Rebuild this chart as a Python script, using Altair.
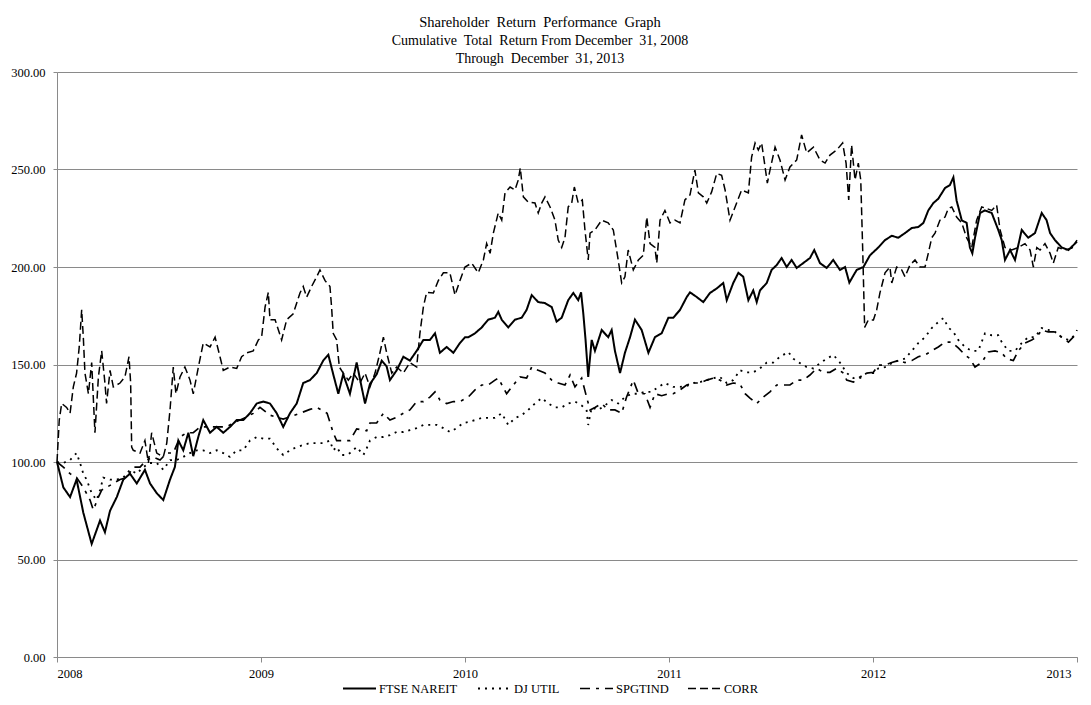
import altair as alt
import pandas as pd

series_names = ["FTSE NAREIT", "DJ UTIL", "SPGTIND", "CORR"]
start_year = 2008

# years elapsed since start of 2008, and index values
ftse_t = [0.000,0.031,0.064,0.096,0.129,0.170,0.211,0.235,0.260,0.293,0.325,0.358,0.391,0.431,0.456,0.489,0.521,0.554,0.578,0.595,0.619,0.644,0.668,0.693,0.717,0.750,0.783,0.815,0.848,0.881,0.913,0.946,0.979,
          1.011,1.044,1.077,1.109,1.142,1.175,1.207,1.240,1.273,1.305,1.330,1.354,1.379,1.403,1.436,1.469,1.494,1.510,1.534,1.567,1.592,1.616,1.632,1.665,1.698,1.730,1.763,1.796,1.828,1.853,1.877,1.910,1.943,1.975,2.000,
          2.016,2.049,2.082,2.114,2.147,2.163,2.180,2.212,2.245,2.278,2.302,2.327,2.359,2.392,2.425,2.449,2.474,2.506,2.531,2.555,2.569,2.580,2.591,2.604,2.621,2.637,2.670,2.702,2.719,2.735,2.760,2.784,2.809,2.833,2.866,2.899,2.931,2.964,2.997,
          3.021,3.054,3.087,3.103,3.136,3.168,3.201,3.234,3.266,3.283,3.315,3.340,3.364,3.389,3.413,3.430,3.446,3.479,3.503,3.528,3.552,3.577,3.601,3.626,3.658,3.691,3.712,3.740,3.773,3.805,3.838,3.863,3.884,3.920,3.953,3.985,
          4.026,4.059,4.092,4.124,4.157,4.190,4.222,4.247,4.271,4.296,4.320,4.353,4.377,4.394,4.410,4.435,4.459,4.475,4.487,4.500,4.525,4.549,4.582,4.614,4.631,4.647,4.672,4.696,4.729,4.761,4.794,4.827,4.851,4.868,4.892,4.925,4.958,4.990,5.000]
ftse_v = [100,87,82,91,74,58,70,64,75,82,91,94,89,96,89,84,80.5,91,97.5,111,106,115,103,113,121.5,115,118,115,118,121.5,121.5,125,130,
          131,130,125,118,125,130,140.5,142,145.6,152,155,145,135,145,135,151,138,130,140,145,152,149,142,147,154,152,157,162.6,162.6,166,156,159,156,161,164,
          164,166,169,173,174,177,173,169,173,174,178,185.6,182,181.5,179.5,172,174,183,186.7,183,187,176,162.6,143.6,162.6,157,167.7,164,167.7,157,145.6,156,164,173,167.7,156,164,166,174,
          174,178,184.6,187,184.6,182,186.7,189,191.8,183,191.8,197,195,183,188,182,188,191.8,198.5,201,204.6,200,203.6,199.5,202,204.6,208.7,202,199.5,203.6,198.5,200,192,198.5,200,206,
          210,213.8,216,215,217.4,220,220.5,222.6,229,232.8,235,240.5,242,246,234,224,222.6,210,207,215,227.7,229,227.7,219,213.8,203.6,208.7,203.6,219,215,217.4,227.7,224,217.4,213.8,210,208.7,212,213]

djutil_t = [0.000,0.031,0.064,0.096,0.113,0.129,0.145,0.170,0.194,0.211,0.227,0.260,0.293,0.325,0.358,0.391,0.423,0.456,0.489,0.521,0.554,0.586,0.619,0.652,0.685,0.717,0.750,0.783,0.815,0.848,0.881,0.913,0.946,0.979,
            1.011,1.044,1.077,1.109,1.142,1.175,1.207,1.240,1.273,1.305,1.338,1.354,1.371,1.395,1.420,1.436,1.469,1.502,1.518,1.534,1.567,1.600,1.632,1.665,1.698,1.730,1.763,1.796,1.828,1.861,1.894,1.926,1.959,1.992,
            2.016,2.049,2.082,2.114,2.147,2.180,2.212,2.245,2.278,2.310,2.343,2.376,2.408,2.441,2.474,2.506,2.539,2.572,2.596,2.604,2.621,2.653,2.686,2.719,2.751,2.784,2.817,2.850,2.882,2.915,2.948,2.980,
            3.021,3.054,3.087,3.120,3.152,3.185,3.217,3.250,3.283,3.315,3.348,3.381,3.413,3.446,3.479,3.511,3.544,3.585,3.609,3.642,3.675,3.708,3.740,3.773,3.806,3.838,3.871,3.904,3.936,3.969,4.002,
            4.026,4.059,4.092,4.124,4.157,4.190,4.222,4.255,4.288,4.320,4.345,4.369,4.394,4.418,4.451,4.484,4.516,4.549,4.582,4.614,4.631,4.663,4.696,4.729,4.761,4.794,4.827,4.859,4.892,4.925,4.958,4.990,5.000]
djutil_v = [100,99.5,101,104.6,99.5,94,91,84,80.5,85.6,92,91,91,92,96,94,97.4,99.5,99.5,96,101,101,102.6,104.6,106,106,104.6,106,104.6,102.6,106,106,111,112.8,
            112,112,107,103.6,106,107.7,108.7,109.7,109.7,109.7,111,106,107.7,103.6,103.6,104.6,107.7,103.6,107,111,112.8,112.8,113.8,115.4,115.4,116.4,117.4,119,119,119,117.4,115.4,117.4,120,
            120.5,121.5,122.6,122.6,122.6,125,119,122.6,124,126.7,130,132.8,130,128,128,130,131,129,126.7,119,128,126.7,129,131.8,130,133.3,135,135,136,136,138.5,140.5,
            138.5,138.5,139,140.5,141,142,143,143.6,140.5,142,147,146,146,148,151,151,154,156.4,153,150.7,148.7,148,150.7,153,154.9,151,145.6,143,143,145.6,145.6,
            148,148.7,150.7,152,153,157,161,164,168.7,171.8,173.8,169,166.7,162.6,159,157,157,166,165,165,161.5,157,157,161,164,164,168.7,167.7,166.7,164,162.6,165,166]

spgt_t = [0.000,0.031,0.064,0.096,0.129,0.162,0.178,0.203,0.219,0.243,0.276,0.309,0.341,0.374,0.407,0.439,0.472,0.505,0.538,0.570,0.603,0.635,0.668,0.701,0.734,0.766,0.799,0.832,0.864,0.897,0.930,0.962,0.995,
          1.044,1.109,1.191,1.240,1.273,1.324,1.354,1.371,1.403,1.436,1.469,1.518,1.534,1.567,1.600,1.632,1.665,1.698,1.730,1.763,1.796,1.828,1.853,1.877,1.910,1.943,1.975,
          2.016,2.049,2.082,2.114,2.147,2.163,2.204,2.237,2.270,2.302,2.327,2.359,2.392,2.425,2.457,2.490,2.515,2.539,2.572,2.596,2.613,2.637,2.670,2.702,2.735,2.768,2.792,2.825,2.850,2.882,2.907,2.931,2.964,2.997,
          3.021,3.054,3.087,3.120,3.152,3.185,3.217,3.250,3.283,3.315,3.348,3.373,3.397,3.430,3.462,3.495,3.528,3.560,3.593,3.626,3.658,3.691,3.724,3.756,3.789,3.822,3.855,3.871,3.904,3.936,3.969,4.002,
          4.026,4.059,4.092,4.124,4.157,4.190,4.222,4.255,4.288,4.320,4.353,4.386,4.418,4.451,4.475,4.500,4.533,4.565,4.598,4.631,4.655,4.688,4.712,4.745,4.778,4.802,4.827,4.859,4.892,4.925,4.958,4.990,5.000]
spgt_v = [100,97.4,94,92,87,80.5,75.4,82,85.6,87,89,91,92,97.4,97.4,101,102.6,101,104.6,104.6,112.8,115,115,118,118,118,118,118,120,121.5,123,125,128,
          124,122,125,127,128,125,115,111,111,111,117,116,120,120,125,121.5,123,125,126.7,131,131,133.3,136,131.8,130,131,131,
          133.3,137,139.5,139.5,142,143,135,139.5,143.6,143,148.7,147,145.6,142,140.5,139.5,144.6,138.5,143,133.3,126.7,128,130,126.7,126.7,125,133.3,142,135,135,128,135,134,135,
          135,137,139.5,140.5,140.5,142,143,142,139.5,140.5,140,135,132.8,130,133.3,136,139.5,139.5,139.5,142,142,144.6,148,146,146,148,145.6,142,141,143.6,145.6,146,
          149.7,149.7,151,152,151,152,154,154.9,157,159,161.5,161.5,158.5,154.9,153,148.7,151,156.4,157,156,153,152,157,161,162.6,164,167.7,166.7,166.7,164,161.5,165,167.7]

corr_t = [0.000,0.011,0.023,0.047,0.064,0.080,0.096,0.109,0.121,0.129,0.137,0.154,0.170,0.186,0.203,0.219,0.235,0.243,0.260,0.276,0.309,0.333,0.353,0.361,0.366,0.374,0.407,0.431,0.448,0.464,0.489,0.521,0.538,0.554,0.570,0.583,0.603,0.627,0.652,0.668,0.693,0.717,0.750,0.775,0.799,0.815,0.848,0.881,0.905,0.930,0.962,0.987,
          1.003,1.020,1.036,1.044,1.069,1.101,1.126,1.158,1.191,1.207,1.224,1.248,1.273,1.289,1.314,1.338,1.346,1.354,1.371,1.384,1.403,1.428,1.453,1.485,1.510,1.534,1.559,1.583,1.600,1.616,1.641,1.665,1.698,1.730,1.763,1.779,1.796,1.812,1.845,1.869,1.894,1.926,1.951,1.975,
          2.000,2.033,2.065,2.090,2.106,2.123,2.139,2.163,2.180,2.196,2.221,2.245,2.261,2.271,2.286,2.310,2.343,2.359,2.376,2.392,2.417,2.441,2.457,2.474,2.490,2.506,2.523,2.536,2.555,2.575,2.588,2.604,2.613,2.637,2.670,2.702,2.727,2.751,2.768,2.784,2.800,2.825,2.850,2.874,2.891,2.907,2.931,2.940,2.956,2.980,
          3.005,3.029,3.054,3.078,3.103,3.127,3.144,3.168,3.185,3.209,3.234,3.258,3.275,3.299,3.324,3.356,3.389,3.405,3.422,3.438,3.454,3.471,3.482,3.495,3.520,3.544,3.569,3.593,3.626,3.650,3.675,3.708,3.740,3.765,3.789,3.822,3.851,3.868,3.881,3.895,3.912,3.928,3.940,3.950,3.959,3.977,
          4.002,4.018,4.034,4.059,4.083,4.092,4.116,4.141,4.157,4.181,4.206,4.230,4.255,4.271,4.288,4.304,4.328,4.353,4.369,4.386,4.410,4.435,4.459,4.484,4.508,4.533,4.557,4.582,4.606,4.623,4.647,4.680,4.712,4.745,4.770,4.786,4.803,4.819,4.843,4.868,4.884,4.908,4.941,4.975,5.000]
corr_v = [100,121.5,130,128,125,138.5,145.6,159,178,164,145.6,135,151,115,143.6,157,140.5,130,147,138.5,140.5,143.6,154,140.5,107.7,106,104.6,111,99.5,115,104.6,102.6,109.7,126.7,148.7,135,143.6,148.7,142,135,148.7,161,159,164,154,147,148.7,148,154,156,157,162.6,
          164,179.5,187,173,173,162.6,173,176,186.7,190,184.6,190,195,198.5,193,190,179.5,166,162.6,148.7,145.6,142,145.6,140.5,145.6,138.5,145.6,156,164,156,145.6,148.7,145.6,151,148.7,166,179.5,187,186.7,193,197,197,185.6,193,
          200,202,197,203.6,212,207,217.4,227.7,224,238,241,239.5,244.6,250.8,236,233.3,232.8,227.7,232.8,236,230.8,224,213.8,210,215,230.8,232.8,241,232.8,234.4,219,203.6,217.4,219,224,222.6,219,203.6,191.8,195,208.7,198.5,203.6,206,225.6,212,210,202,224,229,
          222.6,224,222.6,234.4,237,249.7,238,236,232.8,238.5,248,247,239.5,224,230.8,239.5,238,256.4,263.6,260,263.6,251.3,243,249.7,261.5,254.9,244.6,251.3,254.9,267.7,258.5,261.5,254.9,253.3,257.4,260,263.6,253.3,234.4,262.6,244.6,253.3,244.6,207,169,172.8,
          172.8,178,186.7,197,200,191.8,200,198.5,195,201,203.6,200,200,207,215,217.4,224,225.6,230,230.8,225.6,222.6,215,210,224,230.8,230,229,231.8,219,210,208.7,210,212,208.7,200,210,208.7,212,207,202,210,208.7,209.7,213.8]

year_ticks = [2008, 2009, 2010, 2011, 2012, 2013]
value_ticks = [0, 50, 100, 150, 200, 250, 300]
title_main = "Shareholder\u00a0 Return\u00a0 Performance\u00a0 Graph"
title_sub = ["Cumulative\u00a0 Total\u00a0 Return From December\u00a0 31, 2008",
             "Through\u00a0 December\u00a0 31, 2013"]

series_t = [ftse_t, djutil_t, spgt_t, corr_t]
series_v = [ftse_v, djutil_v, spgt_v, corr_v]
rows = []
for name, ts, vs in zip(series_names, series_t, series_v):
    assert len(ts) == len(vs), (name, len(ts), len(vs))
    for i, (t, v) in enumerate(zip(ts, vs)):
        rows.append({"series": name, "year": start_year + t, "value": v, "order": i})
df = pd.DataFrame(rows)

dash_range = [[1, 0], [2, 5], [10, 6, 3, 6], [8, 4]]
width_range = [2, 1.5, 3.5, 2]
serif = "Liberation Serif"

legend = alt.Legend(
    title=None, orient="none", direction="horizontal", legendX=285, legendY=599,
    symbolType="stroke", symbolSize=1089, symbolStrokeColor="black",
    labelFont=serif, labelFontSize=12.5, labelColor="black", labelOffset=2,
    columnPadding=16, columns=4, padding=0,
)

last_label_shift = {"condition": {"test": "datum.value == 2013", "value": -6}, "value": 0}

chart = alt.Chart(df).mark_line(color="black", interpolate="linear").encode(
    x=alt.X("year:Q", scale=alt.Scale(domain=[2008, 2013], nice=False, zero=False),
            axis=alt.Axis(values=year_ticks, format="d", title=None, grid=False,
                          tickSize=5, tickColor="#8a8a8a", domainColor="#8a8a8a",
                          labelPadding=5, labelOffset=last_label_shift)),
    y=alt.Y("value:Q", scale=alt.Scale(domain=[0, 300], nice=False),
            axis=alt.Axis(values=value_ticks, format=".2f", title=None, grid=True,
                          gridColor="#8a8a8a", gridWidth=1, tickSize=4,
                          tickColor="#8a8a8a", domainColor="#8a8a8a", labelPadding=8)),
    detail="series:N",
    order="order:Q",
    strokeDash=alt.StrokeDash("series:N", scale=alt.Scale(domain=series_names, range=dash_range),
                              sort=series_names, legend=legend),
    strokeWidth=alt.StrokeWidth("series:N", scale=alt.Scale(domain=series_names, range=width_range),
                                sort=series_names, legend=legend),
).properties(
    width=1020, height=585,
    title=alt.TitleParams(text=title_main, subtitle=title_sub,
                          font=serif, fontSize=14.5, fontWeight="normal", color="black",
                          subtitleFont=serif, subtitleFontSize=14, subtitleColor="black",
                          subtitleLineHeight=18.5, subtitlePadding=3,
                          anchor="middle", dx=-27, offset=-1),
    autosize=alt.AutoSizeParams(type="none"),
    padding={"left": 49, "top": 64, "right": 6, "bottom": 40},
).configure_axis(
    labelFont=serif, labelFontSize=12.5, labelColor="black",
).configure_view(stroke=None)

chart.save("out.html", embed_options={"renderer": "svg", "actions": False})
